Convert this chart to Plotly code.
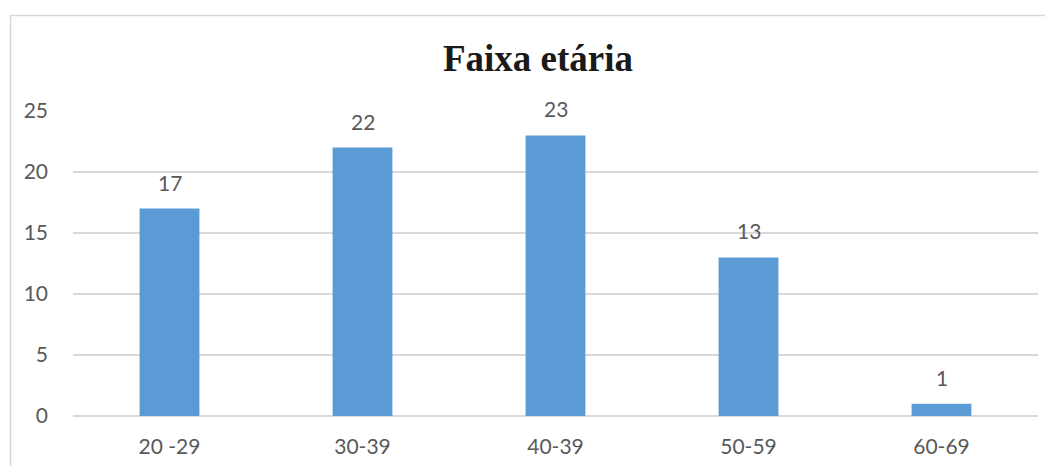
import plotly.graph_objects as go

categories = ["20 -29", "30-39", "40-39", "50-59", "60-69"]
values = [17, 22, 23, 13, 1]
y_ticks = [0, 5, 10, 15, 20, 25]

# page body has an 8px margin, so the figure is sized/positioned to compensate
W, H = 1045, 458
L, R, T, B = 65, 15, 103, 50
pw = W - L - R
ph = H - T - B
FONT = "Lato, Open Sans, sans-serif"

fig = go.Figure(go.Bar(
    x=categories, y=values, width=0.31,
    marker=dict(color="#5B9BD5", line=dict(width=0)),
    hoverinfo="x+y",
))

for c, v in zip(categories, values):
    fig.add_annotation(x=c, y=v, text=str(v), showarrow=False, yanchor="bottom",
                       yshift=12, font=dict(family=FONT, size=21, color="#595959"))

def px_to_paper_x(px):
    return (px - L) / pw

def px_to_paper_y(py):
    return (H - B - py) / ph

fig.update_layout(
    width=W, height=H,
    margin=dict(l=L, r=R, t=T, b=B, autoexpand=False),
    paper_bgcolor="white", plot_bgcolor="white",
    title=dict(text="<b>Faixa etária</b>", x=530 / W, xanchor="center",
               xref="container", yref="container", y=1 - 50 / H, yanchor="middle",
               font=dict(family="Liberation Serif, Times New Roman, serif", size=37, color="#1a1a1a")),
    showlegend=False,
    xaxis=dict(showgrid=False, showline=False, ticks="", ticklabelstandoff=16, automargin=False,
               tickfont=dict(family=FONT, size=21, color="#595959")),
    yaxis=dict(range=[0, 25], tickvals=y_ticks, showgrid=True, gridcolor="#d9d9d9", gridwidth=1.5,
               zeroline=True, zerolinecolor="#d9d9d9", zerolinewidth=1.5, showline=False, ticks="",
               ticklabelstandoff=24, automargin=False,
               tickfont=dict(family=FONT, size=21, color="#595959")),
    shapes=[dict(type="rect", xref="paper", yref="paper",
                 x0=px_to_paper_x(2.5), x1=px_to_paper_x(1080),
                 y0=px_to_paper_y(490), y1=px_to_paper_y(7.5),
                 line=dict(color="#d9d9d9", width=1.5), fillcolor="rgba(0,0,0,0)", layer="below")],
)

fig.write_html("out.html")
